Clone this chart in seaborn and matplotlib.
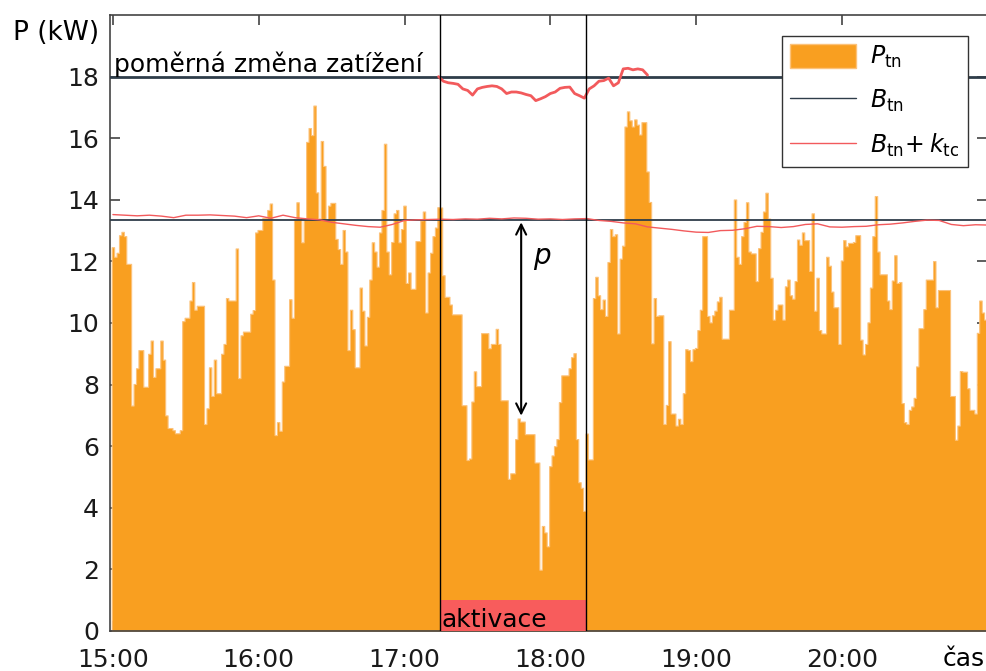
import numpy as np
import pandas as pd
import matplotlib
matplotlib.use("Agg")
import matplotlib.pyplot as plt
import seaborn as sns
from matplotlib.patches import Patch, Rectangle
from matplotlib.lines import Line2D

# ---------------- data (kW, one value per minute, bars centred on the minute) --------
p_15 = [12.46, 12.15, 12.28, 12.85, 12.96, 12.82, 11.92, 11.92, 7.32, 8.02,
        8.53, 9.12, 9.12, 7.93, 7.93, 9.0, 9.43, 8.25, 8.53, 8.53,
        9.43, 8.81, 7.0, 6.59, 6.59, 6.52, 6.42, 6.42, 6.52, 10.06,
        10.17, 10.17, 10.73, 11.33, 10.43, 10.56, 10.56, 10.56, 6.72, 7.23,
        8.56, 7.63, 8.81, 7.72, 7.72, 9.0, 9.32, 10.81, 10.73, 10.73,
        10.73, 12.42, 8.21, 9.6, 9.72, 9.72, 9.72, 10.3, 10.42, 12.94]
p_16 = [13.02, 13.02, 13.41, 13.41, 13.67, 13.88, 11.41, 6.36, 6.78, 6.5,
        8.1, 8.61, 8.61, 10.77, 10.17, 13.37, 13.92, 13.39, 12.62, 13.39,
        15.88, 16.33, 16.1, 17.06, 14.24, 13.39, 15.91, 15.1, 13.33, 13.81,
        13.9, 13.9, 12.73, 12.4, 11.92, 13.02, 12.32, 9.12, 10.43, 9.8,
        8.56, 8.56, 11.15, 10.4, 9.27, 10.2, 11.41, 12.62, 12.32, 11.83,
        12.94, 13.67, 15.82, 12.32, 11.58, 12.63, 13.56, 13.67, 12.62, 13.05]
p_17 = [13.81, 11.3, 11.64, 11.11, 11.11, 12.66, 12.66, 13.33, 13.62, 10.34,
        11.64, 12.28, 12.82, 13.1, 13.76, 13.75, 11.55, 10.85, 10.85, 10.6,
        10.28, 10.28, 10.28, 10.28, 7.33, 7.33, 5.55, 5.6, 7.45, 8.43,
        7.95, 7.95, 9.67, 9.67, 9.67, 9.18, 9.32, 9.32, 9.81, 9.32,
        7.49, 7.49, 7.49, 4.94, 5.12, 5.12, 6.23, 6.9, 6.8, 6.8,
        6.39, 6.39, 6.39, 6.39, 5.47, 5.47, 1.99, 3.41, 3.2, 2.75]
p_18 = [5.35, 5.7, 6.0, 6.23, 7.43, 8.3, 8.3, 8.3, 8.53, 8.89,
        9.02, 6.23, 4.83, 4.65, 3.9, 6.41, 5.57, 5.57, 10.81, 11.5,
        10.9, 10.45, 10.76, 10.23, 11.98, 13.05, 12.82, 12.88, 9.66, 12.09,
        12.51, 16.38, 16.87, 16.58, 16.38, 16.61, 16.44, 16.12, 16.52, 16.52,
        14.92, 13.93, 9.34, 10.81, 10.23, 10.25, 10.25, 6.72, 7.34, 9.41,
        7.06, 7.06, 6.67, 6.89, 6.72, 7.72, 9.15, 9.12, 8.76, 9.15]
p_19 = [9.19, 9.77, 10.43, 12.82, 12.82, 10.23, 10.02, 10.25, 10.4, 10.7,
        10.85, 9.49, 9.49, 9.49, 10.43, 10.43, 14.01, 12.15, 11.92, 12.82,
        13.28, 13.92, 12.32, 12.26, 12.26, 11.36, 12.43, 12.96, 13.62, 14.23,
        13.39, 11.47, 10.11, 10.43, 10.6, 10.6, 10.11, 11.19, 11.41, 10.9,
        10.79, 11.36, 12.71, 12.54, 12.94, 12.69, 12.69, 11.69, 13.56, 10.4,
        11.47, 9.77, 9.66, 9.66, 12.15, 11.86, 11.02, 10.51, 10.51, 9.32]
p_20 = [12.03, 12.69, 12.49, 12.6, 12.6, 12.63, 12.85, 12.85, 9.46, 8.98,
        9.32, 10.02, 11.15, 12.82, 14.12, 12.32, 11.58, 11.58, 11.58, 10.73,
        10.45, 11.38, 12.2, 11.3, 11.33, 7.4, 6.78, 6.72, 7.18, 7.29,
        7.57, 8.59, 9.83, 9.83, 10.45, 11.41, 11.41, 11.41, 12.01, 10.51,
        11.07, 11.07, 11.07, 11.07, 11.07, 7.63, 7.63, 6.21, 6.67, 8.44,
        8.42, 8.42, 7.88, 7.18, 7.18, 7.06, 9.68, 10.73, 10.34, 10.11]

# baseline B_tn and relative load change level
b_tn = 13.36
change_level = 18.0

# B_tn + k_tc, sampled every 5 minutes from 15:00 (minutes since 15:00)
red_t = [0, 5, 10, 15, 20, 25, 30, 35, 40, 45, 50, 55,
         60, 65, 70, 75, 80, 85, 90, 95, 100, 105, 110, 115,
         120, 125, 130, 135, 140, 145, 150, 155, 160, 165, 170, 175,
         180, 185, 190, 195, 200, 205, 210, 215, 220, 225, 230, 235,
         240, 245, 250, 255, 260, 265, 270, 275, 280, 285, 290, 295,
         300, 305, 310, 315, 320, 325, 330, 335, 340, 345, 350, 355, 360]
red_v = [13.52, 13.50, 13.48, 13.50, 13.47, 13.42, 13.50, 13.50, 13.51, 13.49, 13.47, 13.42,
         13.48, 13.40, 13.50, 13.42, 13.38, 13.35, 13.27, 13.22, 13.17, 13.13, 13.11, 13.20,
         13.33, 13.35, 13.36, 13.37, 13.36, 13.38, 13.37, 13.40, 13.38, 13.41, 13.40, 13.37,
         13.38, 13.36, 13.38, 13.39, 13.33, 13.30, 13.25, 13.22, 13.12, 13.08, 13.04, 12.99,
         12.95, 12.94, 13.00, 13.01, 13.06, 13.14, 13.13, 13.10, 13.13, 13.20, 13.22, 13.12,
         13.11, 13.13, 13.14, 13.19, 13.21, 13.25, 13.30, 13.34, 13.33, 13.20, 13.16, 13.19, 13.18]

# relative change curve (upper red), every 2 minutes from 17:14
up_t = [134, 136, 138, 140, 142, 144, 146, 148, 150, 152, 154, 156, 158, 160, 162,
        164, 166, 168, 170, 172, 174, 176, 178, 180, 182, 184, 186, 188, 190, 192,
        194, 196, 198, 200, 202, 204, 206, 208, 210, 212, 214, 216, 218, 220]
up_v = [18.0, 17.85, 17.8, 17.78, 17.75, 17.6, 17.55, 17.4, 17.6, 17.65, 17.68, 17.7, 17.68, 17.6, 17.45,
        17.5, 17.5, 17.47, 17.42, 17.38, 17.22, 17.28, 17.35, 17.45, 17.5, 17.62, 17.65, 17.66, 17.45, 17.38,
        17.3, 17.6, 17.7, 17.85, 17.87, 17.95, 17.7, 17.8, 18.25, 18.27, 18.22, 18.25, 18.22, 18.05]

act_start, act_end = 134.5, 194.5      # activation window (minutes since 15:00)
act_height = 1.0
arrow_x, arrow_low = 168, 6.9

tick_minutes = [0, 60, 120, 180, 240, 300]
tick_labels = ["15:00", "16:00", "17:00", "18:00", "19:00", "20:00"]
y_ticks = [0, 2, 4, 6, 8, 10, 12, 14, 16, 18]

# ---------------- styling --------------------------------------------------------
sns.set_style("ticks")
plt.rcParams["font.family"] = ["DejaVu Sans"]
plt.rcParams["mathtext.fontset"] = "dejavusans"
plt.rcParams["text.color"] = "black"
plt.rcParams["xtick.color"] = "#333333"
plt.rcParams["ytick.color"] = "#333333"
plt.rcParams["xtick.labelcolor"] = "#1a1a1a"
plt.rcParams["ytick.labelcolor"] = "#1a1a1a"
FS = 18
ORANGE = "#F99F20"
EDGE = "#FCC27A"
DARK = "#2F3D4A"
RED = "#F25A5C"
BOXRED = "#F85C5C"

fig = plt.figure(figsize=(9.86, 6.71), dpi=100)
ax = fig.add_axes([110 / 986, 40 / 671, 877 / 986, 616 / 671])

power = np.concatenate([p_15, p_16, p_17, p_18, p_19, p_20])
df = pd.DataFrame({"t": np.arange(len(power)), "P": power})
sns.histplot(data=df, x="t", weights="P", discrete=True,
             element="step", fill=True, color=ORANGE, alpha=1.0,
             edgecolor=EDGE, linewidth=0.8, ax=ax, zorder=1)

ax.axhline(b_tn, color=DARK, lw=1.3, zorder=3)
ax.axhline(change_level, color=DARK, lw=2.0, zorder=3)
sns.lineplot(x=red_t, y=red_v, color=RED, lw=1.0, ax=ax, zorder=4)
sns.lineplot(x=up_t, y=up_v, color=RED, lw=2.0, ax=ax, zorder=4)

ax.axvline(act_start, color="black", lw=1.0, zorder=5)
ax.axvline(act_end, color="black", lw=1.0, zorder=5)
ax.add_patch(Rectangle((act_start, 0), act_end - act_start, act_height,
                       facecolor=BOXRED, edgecolor="none", zorder=4))
ax.text(act_start + 0.8, 0.13, "aktivace", fontsize=FS, ha="left", va="baseline", zorder=6)

ax.annotate("", xy=(arrow_x, arrow_low), xytext=(arrow_x, b_tn),
            arrowprops=dict(arrowstyle="<->", color="black", lw=1.5, mutation_scale=18),
            zorder=6)
ax.text(arrow_x + 5, 12.1, "$p$", fontsize=FS + 2, ha="left", va="center")

ax.text(0.5, change_level + 0.15, "poměrná změna zatížení", fontsize=FS,
        ha="left", va="baseline", zorder=6)

ax.set_xlim(-1.2, 359.7)
ax.set_ylim(0, 20)
ax.set_xticks(tick_minutes)
ax.set_xticklabels(tick_labels)
ax.set_yticks(y_ticks)
ax.set_xlabel("")
ax.set_ylabel("")
ax.tick_params(direction="in", top=True, right=True, length=7, width=1.1,
               labelsize=FS)
ax.tick_params(axis="x", pad=12)
ax.tick_params(axis="y", pad=8)
for s in ax.spines.values():
    s.set_color("#444444")
    s.set_linewidth(1.2)

fig.text(13 / 986, 1 - 33 / 671, "P (kW)", fontsize=FS + 1, ha="left", va="center")
fig.text(985 / 986, 1 - 666 / 671, "čas", fontsize=FS, ha="right", va="baseline")

handles = [Patch(facecolor=ORANGE, edgecolor=EDGE, lw=1),
           Line2D([0], [0], color=DARK, lw=1.0),
           Line2D([0], [0], color=RED, lw=1.0)]
labels = [r"$P_{\mathrm{tn}}$", r"$B_{\mathrm{tn}}$", r"$B_{\mathrm{tn}}\!+k_{\mathrm{tc}}$"]
leg = ax.legend(handles, labels, loc="upper right", bbox_to_anchor=(0.978, 0.966),
                fontsize=17, frameon=True, fancybox=False, framealpha=1,
                edgecolor="#333333", handlelength=2.8, handleheight=1.15,
                handletextpad=0.6, labelspacing=0.75, borderaxespad=0,
                borderpad=0.35)
leg.get_frame().set_linewidth(1.0)
leg.set_zorder(10)

fig.savefig("out.png", dpi=100)
